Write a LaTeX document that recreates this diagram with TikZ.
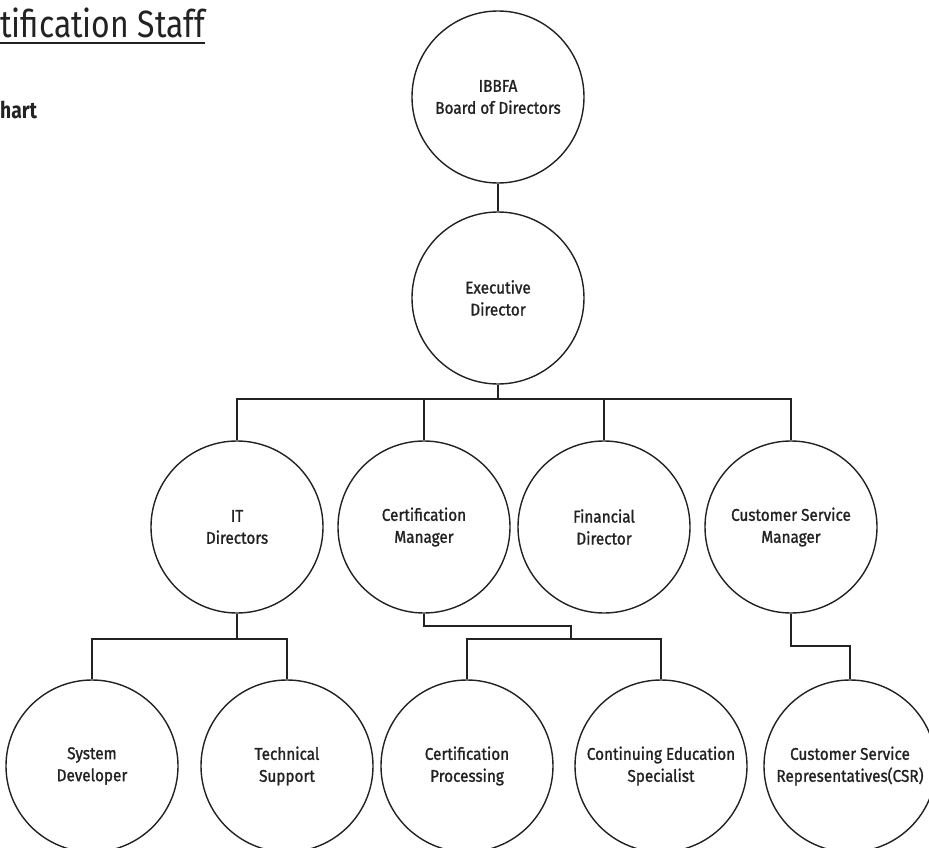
\documentclass[tikz,border=0pt]{standalone}
\usepackage{fontspec}
\setmainfont{Fira Sans}
\newfontfamily\nodefont{Fira Sans}[FakeStretch=0.9,FakeBold=1.3]
\newfontfamily\titlefont{Fira Sans}[FakeStretch=0.84]
\newfontfamily\subfont{Fira Sans}[FakeStretch=0.84]
\definecolor{ink}{HTML}{222222}
\begin{document}
\begin{tikzpicture}[x=1pt,y=-1pt,
  person/.style={circle,draw=ink,line width=1.4pt,minimum size=172pt,inner sep=0pt,
    align=center,text=ink,font=\nodefont\fontsize{17}{22}\selectfont},
  link/.style={draw=ink,line width=1.4pt}]
\useasboundingbox (0,0) rectangle (929,848);
% title
\node[anchor=base west,inner sep=0pt,text=ink,font=\titlefont\fontsize{38}{40}\selectfont] (title) at (0,38) {tification Staff};
\draw[ink,line width=1.2pt] (title.base west) ++(0,5) coordinate (ul1) -- (ul1 -| title.base east);
\node[anchor=base west,inner sep=0pt,text=ink,font=\subfont\bfseries\fontsize{23}{25}\selectfont] (sub) at (0,119) {hart};
% nodes
\node[person] (ibbfa) at (498,97) {IBBFA\\Board of Directors};
\node[person] (exec) at (498,298) {Executive\\Director};
\node[person] (it) at (237,527) {IT\\Directors};
\node[person] (cm) at (424,527) {Certification\\Manager};
\node[person] (fd) at (604,527) {Financial\\Director};
\node[person] (csm) at (791,527) {Customer Service\\Manager};
\node[person] (sd) at (92,766) {System\\Developer};
\node[person] (ts) at (287,766) {Technical\\Support};
\node[person] (cp) at (467,766) {Certification\\Processing};
\node[person] (ce) at (661,766) {Continuing Education\\Specialist};
\node[person] (csr) at (850,766) {Customer Service\\Representatives(CSR)};
% connectors
\coordinate (bus1) at (0,399);
\coordinate (bus2) at (0,639);
\draw[link] (ibbfa.south) -- (exec.north);
\draw[link] (exec.south) -- (exec.south |- bus1) -| (it.north);
\draw[link] (exec.south |- bus1) -| (cm.north);
\draw[link] (exec.south |- bus1) -| (fd.north);
\draw[link] (exec.south |- bus1) -| (csm.north);
\draw[link] (it.south) -- (it.south |- bus2) -| (sd.north);
\draw[link] (it.south |- bus2) -| (ts.north);
\coordinate (j1) at (571,626);
\coordinate (j2) at (571,639);
\draw[link] (cm.south) |- (j1) -- (j2) -| (cp.north);
\draw[link] (j2) -| (ce.north);
\coordinate (j3) at (850,646);
\draw[link] (csm.south) |- (j3) -- (csr.north);
\end{tikzpicture}
\end{document}
